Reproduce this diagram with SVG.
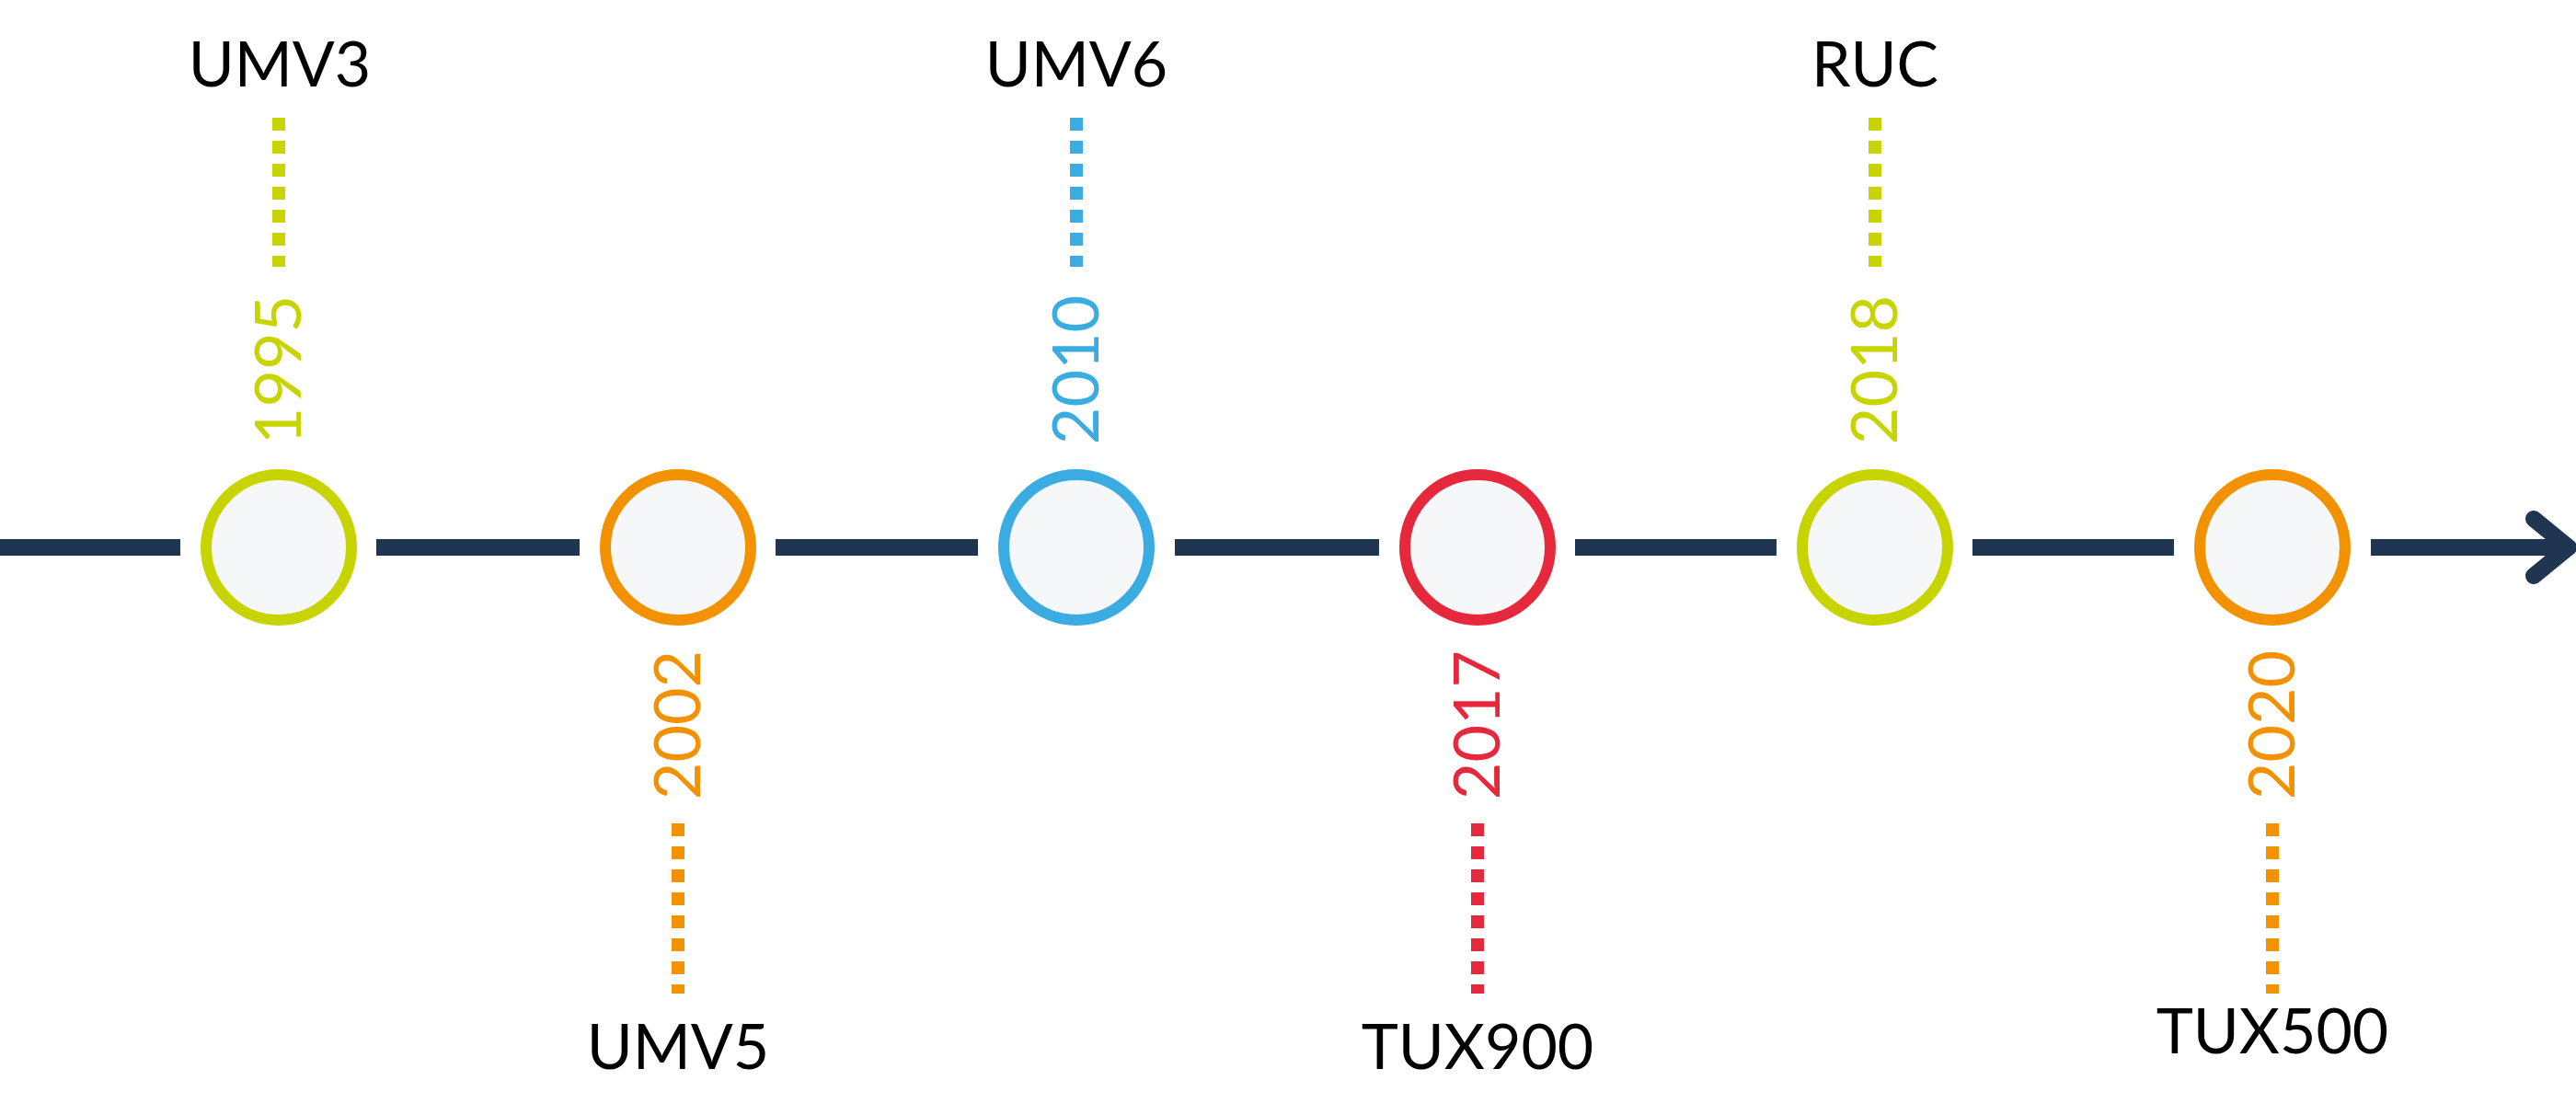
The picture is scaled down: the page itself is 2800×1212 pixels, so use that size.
<svg xmlns="http://www.w3.org/2000/svg" width="2800" height="1212" viewBox="0 0 2800 1212">
<style>
.lbl{font-family:Lato,"Liberation Sans",sans-serif;font-size:68px;fill:#000;text-anchor:middle}
.yr{font-family:Lato,"Liberation Sans",sans-serif;font-size:70px;font-weight:400;text-anchor:middle}
.dot{stroke-width:14;stroke-dasharray:14 11;fill:none}
.c{fill:#f5f7f9;stroke-width:12}
</style>
<g id="connectors" stroke="#1f3552" stroke-width="18" fill="none">
<line x1="0" y1="595" x2="196" y2="595"/>
<line x1="409" y1="595" x2="630" y2="595"/>
<line x1="843" y1="595" x2="1063" y2="595"/>
<line x1="1277" y1="595" x2="1499" y2="595"/>
<line x1="1712" y1="595" x2="1931" y2="595"/>
<line x1="2144" y1="595" x2="2363" y2="595"/>
<line x1="2577" y1="595" x2="2790" y2="595"/>
<polyline points="2754,564 2792,595 2754,626" stroke-linecap="round" stroke-linejoin="round"/>
</g>
<g id="n1995"><circle class="c" cx="303" cy="595" r="79" stroke="#c8d400"/><line class="dot" x1="303" y1="128" x2="303" y2="290" stroke="#c8d400"/><text class="yr" fill="#c8d400" transform="translate(327,402) rotate(-90)">1995</text><text class="lbl" x="304" y="94">UMV3</text></g>
<g id="n2002"><circle class="c" cx="737" cy="595" r="79" stroke="#f39200"/><line class="dot" x1="737" y1="895" x2="737" y2="1080" stroke="#f39200"/><text class="yr" fill="#f39200" transform="translate(761,788) rotate(-90)">2002</text><text class="lbl" x="737" y="1162">UMV5</text></g>
<g id="n2010"><circle class="c" cx="1170" cy="595" r="79" stroke="#3aace2"/><line class="dot" x1="1170" y1="128" x2="1170" y2="290" stroke="#3aace2"/><text class="yr" fill="#3aace2" transform="translate(1194,402) rotate(-90)">2010</text><text class="lbl" x="1170" y="94">UMV6</text></g>
<g id="n2017"><circle class="c" cx="1606" cy="595" r="79" stroke="#e6283c"/><line class="dot" x1="1606" y1="895" x2="1606" y2="1080" stroke="#e6283c"/><text class="yr" fill="#e6283c" transform="translate(1630,788) rotate(-90)">2017</text><text class="lbl" x="1606" y="1162">TUX900</text></g>
<g id="n2018"><circle class="c" cx="2038" cy="595" r="79" stroke="#c8d400"/><line class="dot" x1="2038" y1="128" x2="2038" y2="290" stroke="#c8d400"/><text class="yr" fill="#c8d400" transform="translate(2062,402) rotate(-90)">2018</text><text class="lbl" x="2038" y="94">RUC</text></g>
<g id="n2020"><circle class="c" cx="2470" cy="595" r="79" stroke="#f39200"/><line class="dot" x1="2470" y1="895" x2="2470" y2="1080" stroke="#f39200"/><text class="yr" fill="#f39200" transform="translate(2494,788) rotate(-90)">2020</text><text class="lbl" x="2470" y="1145">TUX500</text></g>
</svg>
